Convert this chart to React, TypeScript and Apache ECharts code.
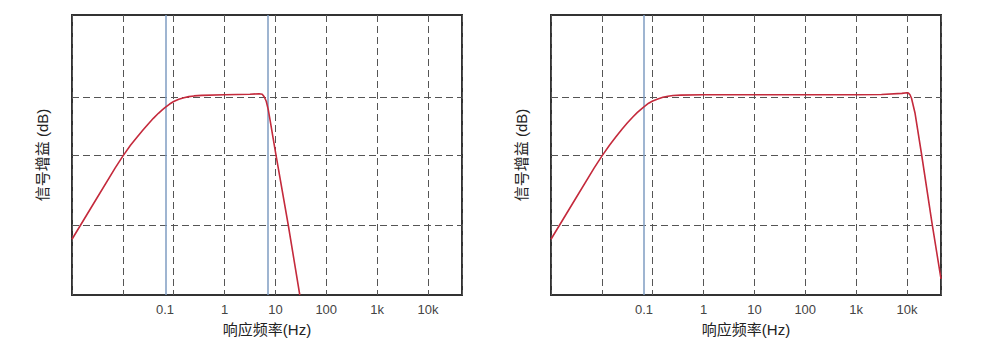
import React, { useEffect, useRef } from "react";
import * as echarts from "echarts";

// Frequencies in Hz, gains in relative units (0..100 of plot height)
const leftFreq = [0.001, 0.00316, 0.00708, 0.01, 0.01413, 0.01862, 0.0251, 0.0316, 0.0398, 0.0501, 0.0603, 0.0692, 0.0832, 0.1, 0.1259, 0.1585, 0.1995, 0.2512, 0.3548, 1, 3.16, 4.79, 5.5, 6.03, 6.61, 7.24, 7.94, 8.91, 10.2, 17.9, 30.2];
const leftGain = [19.9, 34.9, 45.4, 49.6, 53.5, 56.2, 59.0, 61.1, 63.1, 64.9, 66.2, 67.1, 68.2, 69.1, 69.9, 70.45, 70.85, 71.1, 71.3, 71.5, 71.7, 71.9, 71.7, 70.8, 69.2, 66.2, 62.0, 56.6, 50.3, 25.0, 0];

const rightFreq = [0.001, 0.00316, 0.00708, 0.01, 0.01413, 0.01862, 0.0251, 0.0316, 0.0398, 0.0501, 0.0603, 0.0692, 0.0832, 0.1, 0.1259, 0.1585, 0.1995, 0.2512, 0.3548, 1, 10, 1000, 3162, 7943, 10000, 10715, 11482, 12303, 14454, 19498, 30903, 44668, 46774];
const rightGain = [19.9, 34.9, 45.4, 49.6, 53.5, 56.3, 59.3, 61.4, 63.4, 65.2, 66.5, 67.4, 68.5, 69.3, 70.0, 70.6, 71.0, 71.25, 71.4, 71.5, 71.5, 71.5, 71.6, 72.0, 72.25, 72.1, 71.5, 70.25, 64.9, 50.0, 26.0, 8.0, 5.8];

// Cut-off markers (Hz)
const leftMarkers = [0.0684, 7.08];
const rightMarkers = [0.0665];

// Horizontal reference levels
const hLevels = [70.8, 50, 25];

// Tick label positions (Hz) and texts
const tickFreq = [0.0676, 1, 10, 100, 1000, 10000];
const tickText = ["0.1", "1", "10", "100", "1k", "10k"];

const X_MIN = -3;
const X_MAX = 4.67;

const FONT = "'Liberation Sans', Arial, 'Noto Sans CJK SC', sans-serif";
const RED = "#c42a3c";
const BLUE = "#7f9dc2";
const GRID_C = "#555555";

const lg = (v: number) => Math.log10(v);

function labelFor(v: number): string {
  for (let i = 0; i < tickFreq.length; i++) {
    if (Math.abs(lg(tickFreq[i]) - v) < 1e-6) return tickText[i];
  }
  return "";
}

function makeXAxis(gridIndex: number) {
  return {
    type: "value",
    gridIndex,
    min: X_MIN,
    max: X_MAX,
    interval: 1,
    axisLine: { show: false },
    axisTick: { show: false },
    splitLine: { show: true, lineStyle: { color: GRID_C, width: 1, type: [7, 4] } },
    axisLabel: {
      show: true,
      customValues: tickFreq.map(lg),
      formatter: (v: number) => labelFor(v),
      color: "#444",
      fontSize: 13,
      fontFamily: FONT,
      margin: 8,
    },
    name: "响应频率(Hz)",
    nameLocation: "middle",
    nameGap: 27,
    nameTextStyle: { fontSize: 15, color: "#222", fontFamily: FONT },
  };
}

function makeYAxis(gridIndex: number) {
  return {
    type: "value",
    gridIndex,
    min: 0,
    max: 100,
    axisLine: { show: false },
    axisTick: { show: false },
    axisLabel: { show: false },
    splitLine: { show: false },
    name: "信号增益 (dB)",
    nameLocation: "middle",
    nameGap: 22,
    nameTextStyle: { fontSize: 15, color: "#222", fontFamily: FONT },
  };
}

function makeSeries(idx: number, freq: number[], gain: number[], markers: number[]) {
  const mlData: any[] = [];
  hLevels.forEach((y) =>
    mlData.push({ yAxis: y, lineStyle: { color: GRID_C, width: 1, type: [7, 4] } })
  );
  markers.forEach((f) =>
    mlData.push({ xAxis: lg(f), lineStyle: { color: BLUE, width: 1.5, type: "solid" } })
  );
  return {
    type: "line",
    xAxisIndex: idx,
    yAxisIndex: idx,
    data: freq.map((f, i) => [lg(f), gain[i]]),
    showSymbol: false,
    symbol: "none",
    smooth: false,
    clip: true,
    lineStyle: { color: RED, width: 1.6, join: "round" },
    z: 5,
    markLine: {
      silent: true,
      symbol: "none",
      label: { show: false },
      z: 3,
      data: mlData,
    },
  };
}

export default function App() {
  const ref = useRef<HTMLDivElement>(null);
  useEffect(() => {
    document.body.style.margin = "0";
    const chart = echarts.init(ref.current!, undefined, { renderer: "svg" });
    chart.setOption({
      animation: false,
      backgroundColor: "#ffffff",
      grid: [
        { left: 72, top: 15, width: 390, height: 280, show: true, borderColor: "#333", borderWidth: 2, backgroundColor: "transparent" },
        { left: 551, top: 15, width: 390, height: 280, show: true, borderColor: "#333", borderWidth: 2, backgroundColor: "transparent" },
      ],
      xAxis: [makeXAxis(0), makeXAxis(1)],
      yAxis: [makeYAxis(0), makeYAxis(1)],
      series: [
        makeSeries(0, leftFreq, leftGain, leftMarkers),
        makeSeries(1, rightFreq, rightGain, rightMarkers),
      ],
    });
    return () => chart.dispose();
  }, []);
  return <div ref={ref} style={{ width: 1000, height: 348 }} />;
}
